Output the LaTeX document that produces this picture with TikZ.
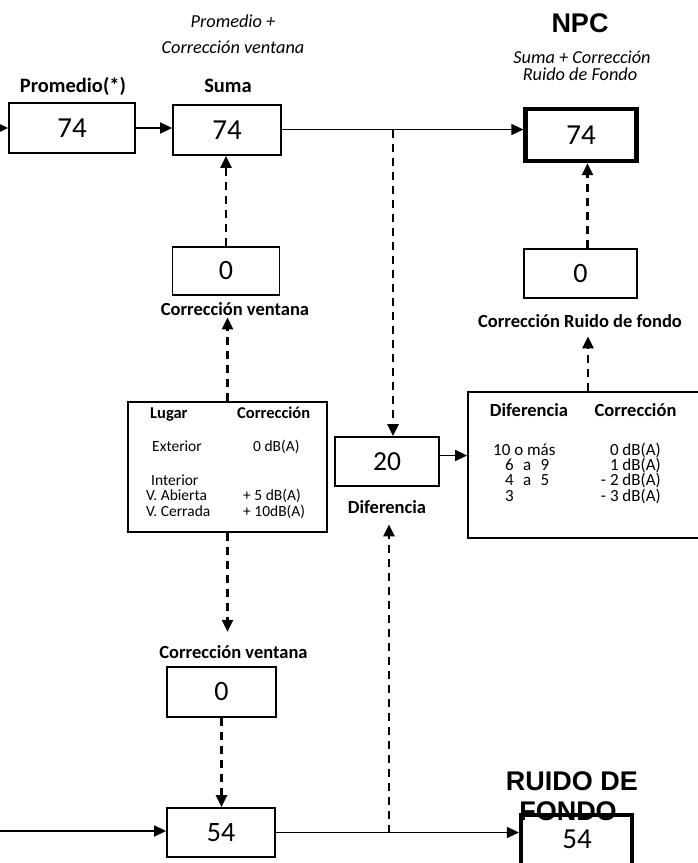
\documentclass[tikz,border=0pt]{standalone}
\usepackage{fontspec}
\setmainfont{Carlito}
\newfontfamily\arialf{Liberation Sans}
\usetikzlibrary{arrows.meta}
\newcommand\myfs[1]{\fontsize{#1}{#1}\selectfont}
\newcommand\rowsfs[2]{\fontsize{#1}{#2}\selectfont}
\begin{document}
\begin{tikzpicture}[x=1pt,y=-1pt,
  box/.style={draw, line width=1.8pt, inner sep=0pt},
  heavybox/.style={draw, line width=4.2pt, inner sep=0pt},
  num/.style={font=\myfs{29}},
  arr/.style={-{Triangle[length=12pt,width=11pt]}, line width=1.6pt},
  darr/.style={-{Triangle[length=12pt,width=11pt]}, line width=2.6pt, dash pattern=on 8pt off 6pt},
  lbl/.style={font=\bfseries\myfs{18.5}, inner sep=1pt, anchor=base},
  ital/.style={font=\itshape\myfs{18.3}, inner sep=1pt, anchor=base},
  big/.style={font=\arialf\bfseries\myfs{27}, inner sep=1pt, anchor=base},
  tsmall/.style={font=\myfs{15.5}, inner sep=0pt, anchor=base west},
  tsmallb/.style={font=\bfseries\myfs{16.5}, inner sep=0pt, anchor=base west},
  trows/.style={font=\rowsfs{17}{15.4}, inner sep=0pt},
  tmidb/.style={font=\bfseries\myfs{18.5}, inner sep=0pt, anchor=base}]
\useasboundingbox[fill=white] (0,0) rectangle (697,863);

% boxes
\node[box, num, minimum width=126pt, minimum height=50pt] (prom) at (72,128) {74};
\node[box, num, minimum width=108pt, minimum height=50pt] (suma) at (227,130) {74};
\node[heavybox, num, minimum width=111pt, minimum height=52pt] (npc) at (581,135) {74};
\node[box, font=\myfs{28}, minimum width=107pt, minimum height=48pt] (cv1) at (226,271) {0};
\node[box, minimum width=199pt, minimum height=130pt] (lug) at (227.5,467) {};
\node[box, font=\myfs{27.5}, minimum width=104pt, minimum height=49pt] (dif) at (387,461.5) {20};
\node[box, minimum width=238pt, minimum height=146pt] (tabr) at (587,465) {};
\node[box, font=\myfs{28}, minimum width=113pt, minimum height=49pt] (cr) at (580.5,273.5) {0};
\node[box, font=\myfs{28}, minimum width=109pt, minimum height=50pt] (cv2) at (221.5,692) {0};
\node[box, font=\myfs{28}, minimum width=108pt, minimum height=49pt] (f54) at (221,832.5) {54};
\node[heavybox, minimum width=111pt, minimum height=54pt] (rf) at (576.5,842) {};

% labels
\node[lbl, font=\bfseries\myfs{20.5}] (lprom) at (73,92) {Promedio(*)};
\node[lbl, font=\bfseries\myfs{20.5}] (lsuma) at (228,92) {Suma};
\node[ital] (lpa) at (233,27) {Promedio +};
\node[ital] (lpb) at (233,53) {Corrección ventana};
\node[big] (lnpc) at (580,32) {NPC};
\node[ital] (lna) at (582,63) {Suma + Corrección};
\node[ital] (lnb) at (580,80) {Ruido de Fondo};
\node[lbl] (lcv1) at (235,315) {Corrección ventana};
\node[lbl] (lcr) at (580,327) {Corrección Ruido de fondo};
\node[lbl] (ldif) at (387,513) {Diferencia};
\node[lbl] (lcv2) at (233.5,658) {Corrección ventana};
\node[big] (lrf1) at (572,790) {RUIDO DE};
\node[big] (lrf2) at (568,820) {FONDO};
\node[font=\myfs{29}, inner sep=0pt, anchor=base] (rfv) at (577,848) {54};

% left table text
\node[tsmallb] (t1) at (150,418) {Lugar};
\node[tsmallb] (t2) at (237,418) {Corrección};
\node[tsmall] (t3) at (152,451) {Exterior};
\node[tsmall] (t4) at (253,451) {0 dB(A)};
\node[inner sep=0pt, anchor=base west, font=\rowsfs{15.5}{15.5}] (t5) at (146,485)
  {\begin{tabular}[t]{@{}l@{}}\smash{\hspace*{5pt}Interior}\\\smash{V. Abierta}\\\smash{V. Cerrada}\end{tabular}};
\node[inner sep=0pt, anchor=base west, font=\rowsfs{15.5}{15.5}] (t8) at (243,500.5)
  {\begin{tabular}[t]{@{}l@{}}\smash{+ 5 dB(A)}\\\smash{+ 10dB(A)}\end{tabular}};

% right table text
\node[tmidb] (r1) at (529,416) {Diferencia};
\node[tmidb] (r2) at (635.5,416) {Corrección};
\node[trows, anchor=base west] (r3) at (493,455)
  {\begin{tabular}[t]{@{}l@{}}\smash{10 o más}\\\smash{\hspace*{12pt}6\hspace{0.55em}a\hspace{0.55em}9}\\\smash{\hspace*{12pt}4\hspace{0.55em}a\hspace{0.55em}5}\\\smash{\hspace*{12pt}3}\end{tabular}};
\node[trows, anchor=base east] (r7) at (661,455)
  {\begin{tabular}[t]{@{}r@{}}\smash{0 dB(A)}\\\smash{1 dB(A)}\\\smash{- 2 dB(A)}\\\smash{- 3 dB(A)}\end{tabular}};

% connectors
\coordinate (in1) at (0,128);
\coordinate (in2) at (0,831);
\coordinate (j1) at (393,129.5);
\coordinate (j2) at (389,832.5);
\draw[arr] (in1) -- (prom.west |- in1);
\draw[arr] (prom.east) -- (suma.west |- prom.east);
\draw[arr] (suma.east |- j1) -- (npc.west |- j1);
\draw[darr] (j1) -- (j1 |- dif.north);
\draw[darr] (cv1.north) -- (cv1.north |- suma.south);
\draw[darr, shorten >=1pt] (lug.north) -- (lug.north |- lcv1.south);
\draw[darr, shorten >=12pt] (lug.south) -- (lug.south |- lcv2.north);
\draw[darr] (cv2.south) -- (cv2.south |- f54.north);
\draw[arr] (in2) -- (f54.west |- in2);
\draw[arr] (f54.east) -- (rf.west |- f54.east);
\draw[darr, shorten >=10pt] (j2) -- (j2 |- ldif.south);
\draw[arr] ([yshift=6pt]dif.east) -- ([yshift=6pt]dif.east -| tabr.west);
\draw[darr, shorten >=8pt] ([xshift=1pt]tabr.north) -- ([xshift=1pt]tabr.north |- lcr.south);
\draw[darr] ([xshift=7pt]cr.north) -- ([xshift=7pt]cr.north |- npc.south);
\end{tikzpicture}
\end{document}
